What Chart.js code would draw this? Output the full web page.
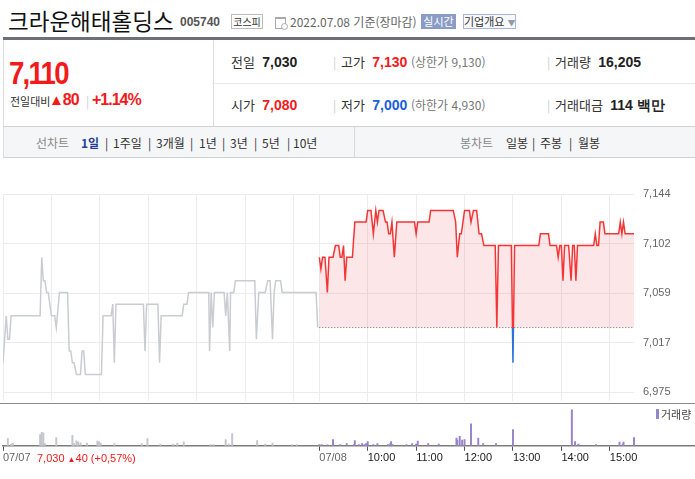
<!DOCTYPE html>
<html lang="ko">
<head>
<meta charset="utf-8">
<title>크라운해태홀딩스 005740</title>
<script src="https://cdn.jsdelivr.net/npm/chart.js@4.4.1/dist/chart.umd.min.js"></script>
<style>
body{margin:0;width:695px;height:479px;overflow:hidden;background:#fff;position:relative;
  font-family:"Noto Sans CJK KR","Noto Sans",sans-serif;color:#222}
.a{position:absolute;white-space:nowrap}
.n{font-family:"Liberation Sans",Arial,sans-serif}
.row{height:20px;line-height:20px;font-size:13px;color:#333}
.row b{font-family:"Liberation Sans",Arial,sans-serif;font-size:14px;color:#222}
.row i{font-style:normal;font-size:12px;color:#777}
.sep{color:#ccc;font-size:12px}
.tab{height:20px;line-height:20px;font-size:12px;color:#333;top:133px}
.red{color:#f21a1a!important}
.blue{color:#1a5ee0!important}
</style>
</head>
<body>

<!-- header -->
<div class="a" style="left:8px;top:4px;font-size:22.5px;line-height:32px;color:#111">크라운해태홀딩스</div>
<div class="a n" style="left:180px;top:13px;font-size:12px;line-height:18px;font-weight:bold;color:#555">005740</div>
<div class="a" style="left:231px;top:14px;width:30px;height:13px;border:1px solid #bbb;font-size:10px;line-height:13px;text-align:center;color:#333">코스피</div>
<div class="a" style="left:275px;top:17px;width:9px;height:9px;border:1px solid #aaa;border-top-width:2px"></div>
<div class="a" style="left:281px;top:23px;width:5px;height:5px;border:1px solid #aaa;border-radius:50%;background:#fff"></div>
<div class="a" style="left:290px;top:12px;font-size:12px;line-height:20px;color:#666">2022.07.08 기준(장마감)</div>
<div class="a" style="left:421px;top:14px;width:35px;height:15px;background:#8a9bc6;color:#fff;font-size:11px;line-height:15px;text-align:center">실시간</div>
<div class="a" style="left:463px;top:14px;width:51px;height:13px;border:1px solid #a9b6dc;background:#f8f9fd;color:#333;font-size:11px;line-height:13px;text-align:center">기업개요 <span style="color:#99a;font-size:8px">▼</span></div>

<div class="a" style="left:3px;top:37px;width:692px;height:3px;background:#6d7079"></div>

<!-- price info -->
<div class="a" style="left:3px;top:40px;width:209px;height:86px;border-left:1px solid #ddd;border-right:1px solid #ddd"></div>
<div class="a n red" style="left:9px;top:55px;font-size:32px;line-height:36px;font-weight:bold;letter-spacing:-2px;transform:scaleX(0.86);transform-origin:left">7,110</div>
<div class="a" style="left:10px;top:92px;font-size:11px;line-height:18px;color:#333">전일대비</div>
<div class="a n red" style="left:49px;top:90px;font-size:16px;line-height:20px;font-weight:bold;letter-spacing:-1px"><span style="font-size:15px">▲</span>80</div>
<div class="a sep" style="left:86px;top:91px;line-height:20px">|</div>
<div class="a n red" style="left:92px;top:90px;font-size:16px;line-height:20px;font-weight:bold;letter-spacing:-1px">+1.14%</div>

<div class="a" style="left:212px;top:83px;width:483px;height:1px;background:#e8e8e8"></div>
<div class="a" style="left:3px;top:126px;width:692px;height:1px;background:#cfd2d6"></div>

<div class="a row" style="left:231px;top:52px">전일&nbsp; <b>7,030</b></div>
<div class="a sep" style="left:333px;top:52px;line-height:20px">|</div>
<div class="a row" style="left:341px;top:52px">고가&nbsp; <b class="red">7,130</b> <i>(상한가 9,130)</i></div>
<div class="a sep" style="left:547px;top:52px;line-height:20px">|</div>
<div class="a row" style="left:555px;top:52px">거래량&nbsp; <b>16,205</b></div>

<div class="a row" style="left:231px;top:95px">시가&nbsp; <b class="red">7,080</b></div>
<div class="a sep" style="left:333px;top:95px;line-height:20px">|</div>
<div class="a row" style="left:341px;top:95px">저가&nbsp; <b class="blue">7,000</b> <i>(하한가 4,930)</i></div>
<div class="a sep" style="left:547px;top:95px;line-height:20px">|</div>
<div class="a row" style="left:555px;top:95px">거래대금&nbsp; <b>114 백만</b></div>

<!-- period tabs -->
<div class="a" style="left:3px;top:127px;width:691px;height:30px;background:#f5f6f8;border-left:1px solid #ddd;border-bottom:1px solid #cfd2d6"></div>
<div class="a" style="left:354px;top:127px;width:1px;height:30px;background:#d5d8dc"></div>
<div class="a tab" style="left:36px;color:#888">선차트</div>
<div class="a tab" style="left:81px;color:#22409a;font-weight:bold">1일</div>
<div class="a tab sep" style="left:105px">|</div>
<div class="a tab" style="left:113px">1주일</div>
<div class="a tab sep" style="left:148px">|</div>
<div class="a tab" style="left:156px">3개월</div>
<div class="a tab sep" style="left:190px">|</div>
<div class="a tab" style="left:199px">1년</div>
<div class="a tab sep" style="left:222px">|</div>
<div class="a tab" style="left:230px">3년</div>
<div class="a tab sep" style="left:254px">|</div>
<div class="a tab" style="left:262px">5년</div>
<div class="a tab sep" style="left:287px">|</div>
<div class="a tab" style="left:293px">10년</div>
<div class="a tab" style="left:460px;color:#888">봉차트</div>
<div class="a tab" style="left:506px">일봉</div>
<div class="a tab sep" style="left:532px">|</div>
<div class="a tab" style="left:540px">주봉</div>
<div class="a tab sep" style="left:569px">|</div>
<div class="a tab" style="left:578px">월봉</div>

<!-- charts -->
<div class="a" style="left:0;top:160px;width:695px;height:257px"><canvas id="priceChart"></canvas></div>
<div class="a" style="left:0;top:403px;width:695px;height:70px;border-top:1px solid #8a8a8a"><canvas id="volChart"></canvas></div>

<div class="a" style="left:656px;top:409px;width:3px;height:10px;background:#9884cc"></div>
<div class="a" style="left:661px;top:405px;font-size:11px;line-height:18px;color:#444">거래량</div>
<div class="a n" style="left:37px;top:451px;font-size:11px;line-height:15px;color:#f21a1a">7,030 <span style="font-size:8px">▲</span>40 (+0,57%)</div>

<script>
// 07/07 (전일) 가격
let day1Times=['09:00','09:04','09:06','09:08','09:10','09:46','09:48','09:50','09:52','09:54','09:56',
'10:00','10:04','10:06','10:10','10:20','10:22','10:24','10:26','10:28','10:31','10:36','10:38','10:40','10:42',
'11:02','11:04','11:14','11:16','11:18','11:20','11:54','11:56','11:58',
'12:12','12:14','12:16','12:42','12:44','12:48','12:50',
'13:15','13:16','13:18','13:20','13:22','13:34','13:36','13:38','13:41','13:42','13:46','13:48',
'14:12','14:14','14:17','14:25','14:28','14:31','14:34','14:36','14:38','14:44','14:46',
'15:28','15:30']
let day1Prices=[7000,7040,7020,7020,7040,7040,7090,7070,7070,7060,7060,
7040,7040,7030,7060,7060,7010,7010,7000,7000,6990,6990,7010,7010,6990,
6990,7040,7040,7050,7000,7050,7050,7010,7050,
7050,7000,7040,7040,7050,7050,7060,
7060,7010,7060,7030,7060,7060,7040,7060,7010,7060,7060,7070,
7070,7020,7060,7060,7070,7070,7020,7060,7070,7070,7060,
7060,7030]

// 07/08 (당일) 가격
let day2Times=['09:00','09:02','09:04','09:07','09:10','09:12','09:17','09:20','09:24','09:26','09:28','09:30','09:32','09:34','09:41','09:44','09:58',
'10:00','10:04','10:07','10:10','10:12','10:14','10:19','10:22','10:24','10:26','10:28','10:30','10:33','10:36','10:58',
'11:00','11:02','11:16','11:18','11:46','11:49','11:51','11:54','11:56',
'12:00','12:06','12:08','12:11','12:15','12:18','12:21','12:24','12:38','12:40','12:42','12:58',
'13:00','13:02','13:32','13:34','13:44','13:46','13:54','13:56','13:58',
'14:00','14:02','14:04','14:09','14:12','14:14','14:16','14:18','14:20','14:40','14:42','14:44','14:46','14:48','14:52','14:54',
'15:11','15:13','15:15','15:17','15:19','15:30']
let day2Prices=[7090,7080,7090,7090,7060,7090,7090,7100,7100,7090,7090,7100,7070,7090,7090,7120,7120,
7130,7130,7110,7130,7120,7130,7130,7120,7120,7110,7110,7120,7090,7120,7120,
7110,7120,7120,7130,7130,7120,7090,7110,7110,
7130,7130,7120,7130,7130,7110,7110,7100,7100,7030,7100,7100,
7000,7100,7100,7110,7110,7100,7100,7090,7100,
7100,7070,7100,7100,7070,7100,7100,7070,7100,7100,7110,7100,7100,7120,7120,7110,
7110,7120,7110,7120,7110,7110]

let prevClose=7030

// 거래량
let day1VolTimes=['09:06','09:10','09:12','09:46','09:48','09:50','09:52','10:06','10:26','10:28','10:31','10:33','10:36','10:44','10:57','10:59',
'11:01','11:18','11:52','11:59','12:15','12:31','12:36','12:44','13:17','13:21','13:36','13:40','13:44','14:15','14:25','14:34','14:58','15:04']
let day1Volumes=[365,85,135,565,685,650,115,415,535,115,250,200,150,135,235,200,
135,115,115,365,85,85,135,200,65,65,315,85,615,265,85,135,65,65]

let day2VolTimes=['09:00','09:03','09:10','09:17','09:26','09:34','09:43','09:44','09:49','09:53','09:56','09:58',
'10:00','10:07','10:12','10:25','10:28','10:29','10:31','10:48','10:55',
'11:00','11:02','11:15','11:28','11:50','11:51','11:54','11:57',
'12:00','12:08','12:17','12:23','12:39','13:00','14:13','14:17','14:21','14:43','15:12','15:16','15:17','15:30']
let day2Volumes=[65,65,50,315,65,115,65,265,65,115,65,115,
215,65,115,65,115,215,65,65,115,
85,235,115,85,385,285,485,285,
315,1115,385,115,115,815,1815,215,85,65,185,85,185,415]

// 축
let yTickValues=[6975,7017.25,7059.5,7101.75,7144]
let yTickLabels=['6,975','7,017','7,059','7,102','7,144']
let gridHours=['09:00','10:00','11:00','12:00','13:00','14:00','15:00']
let xTickDays=[1,2,2,2,2,2,2,2]
let xTickTimes=['09:00','09:00','10:00','11:00','12:00','13:00','14:00','15:00']
let xTickLabels=['07/07','07/08','10:00','11:00','12:00','13:00','14:00','15:00']


const DAY2=392   // 둘째날 09:00 위치(분)
function toMin(day,t){
let p=t.split(':')
return (day-1)*DAY2+(parseInt(p[0])-9)*60+parseInt(p[1])
}

const xMax=toMin(2,'15:30')
const yMin=6967, yMax=7144
const RED='#f53535', BLUE='#2a72dc', GRAY='#c9ccd1'

Chart.defaults.font.family='"Liberation Sans", Arial, sans-serif'

let gridX=[]
gridHours.forEach(t=>{gridX.push(toMin(1,t))})
gridHours.forEach(t=>{gridX.push(toMin(2,t))})

function lineColor(ctx){
let c=ctx.chart, a=c.chartArea
if(!a) return RED
let y0=c.scales.y.getPixelForValue(prevClose)
let r=Math.min(Math.max((y0-a.top)/(a.bottom-a.top),0),1)
let g=c.ctx.createLinearGradient(0,a.top,0,a.bottom)
g.addColorStop(0,RED)
g.addColorStop(r,RED)
g.addColorStop(r,BLUE)
g.addColorStop(1,BLUE)
return g
}


// 가격 차트
new Chart(document.getElementById('priceChart'),{
type:'line',
data:{
datasets:[
{
label:'07/07',
data:day1Times.map((t,i)=>({x:toMin(1,t),y:day1Prices[i]})),
borderColor:GRAY,
borderWidth:1.5,
pointRadius:0,
fill:false
},
{
label:'07/08',
data:day2Times.map((t,i)=>({x:toMin(2,t),y:day2Prices[i]})),
borderColor:lineColor,
borderWidth:1.5,
pointRadius:0,
fill:{value:prevClose,above:'rgba(240,60,70,0.13)',below:'rgba(60,120,220,0.15)'}
},
{
label:'전일종가',
data:[{x:toMin(2,'09:00'),y:prevClose},{x:xMax,y:prevClose}],
borderColor:'#666',
borderWidth:1,
borderDash:[1,2],
pointRadius:0,
fill:false
}
]
},
options:{
animation:false,
responsive:true,
maintainAspectRatio:false,
layout:{padding:{top:34,left:3,right:0,bottom:0}},
plugins:{legend:{display:false},tooltip:{enabled:false}},
scales:{
x:{
type:'linear',min:0,max:xMax,
afterBuildTicks:s=>{s.ticks=gridX.map(v=>({value:v}))},
ticks:{display:false},
grid:{color:'#ececec',drawTicks:false},
border:{display:false}
},
y:{
position:'right',min:yMin,max:yMax,
afterBuildTicks:s=>{s.ticks=yTickValues.map(v=>({value:v}))},
afterFit:s=>{s.width=61},
ticks:{padding:9,color:'#666',font:{size:11},callback:(v,i)=>yTickLabels[i]},
grid:{color:'#ececec',drawTicks:false},
border:{display:false}
}
}
}
})


// 거래량 차트 (x 눈금 간격은 가격 차트와 같게)
const volXMax=xMax*(695-3)/(634-3)

new Chart(document.getElementById('volChart'),{
type:'bar',
data:{
datasets:[
{
label:'07/07 거래량',
data:day1VolTimes.map((t,i)=>({x:toMin(1,t),y:day1Volumes[i]})),
backgroundColor:'#c3c7cc',
barThickness:1.3,
grouped:false
},
{
label:'거래량',
data:day2VolTimes.map((t,i)=>({x:toMin(2,t),y:day2Volumes[i]})),
backgroundColor:'#9884cc',
barThickness:1.3,
grouped:false
}
]
},
options:{
animation:false,
responsive:true,
maintainAspectRatio:false,
layout:{padding:{top:0,left:3,right:0,bottom:8}},
plugins:{legend:{display:false},tooltip:{enabled:false}},
scales:{
x:{
type:'linear',min:0,max:volXMax,offset:false,
afterBuildTicks:s=>{s.ticks=xTickTimes.map((t,i)=>({value:toMin(xTickDays[i],t)}))},
ticks:{
autoSkip:false,maxRotation:0,align:'start',padding:1,font:{size:11},
color:ctx=>xTickLabels[ctx.index].indexOf('/')>0?'#666':'#222',
callback:(v,i)=>xTickLabels[i]
},
grid:{drawOnChartArea:false,drawTicks:true,tickLength:5,color:'#555',offset:false},
border:{display:true,color:'#7d7d7d',width:1.5}
},
y:{display:false,min:0,max:2115}
}
}
})
</script>
</body>
</html>
